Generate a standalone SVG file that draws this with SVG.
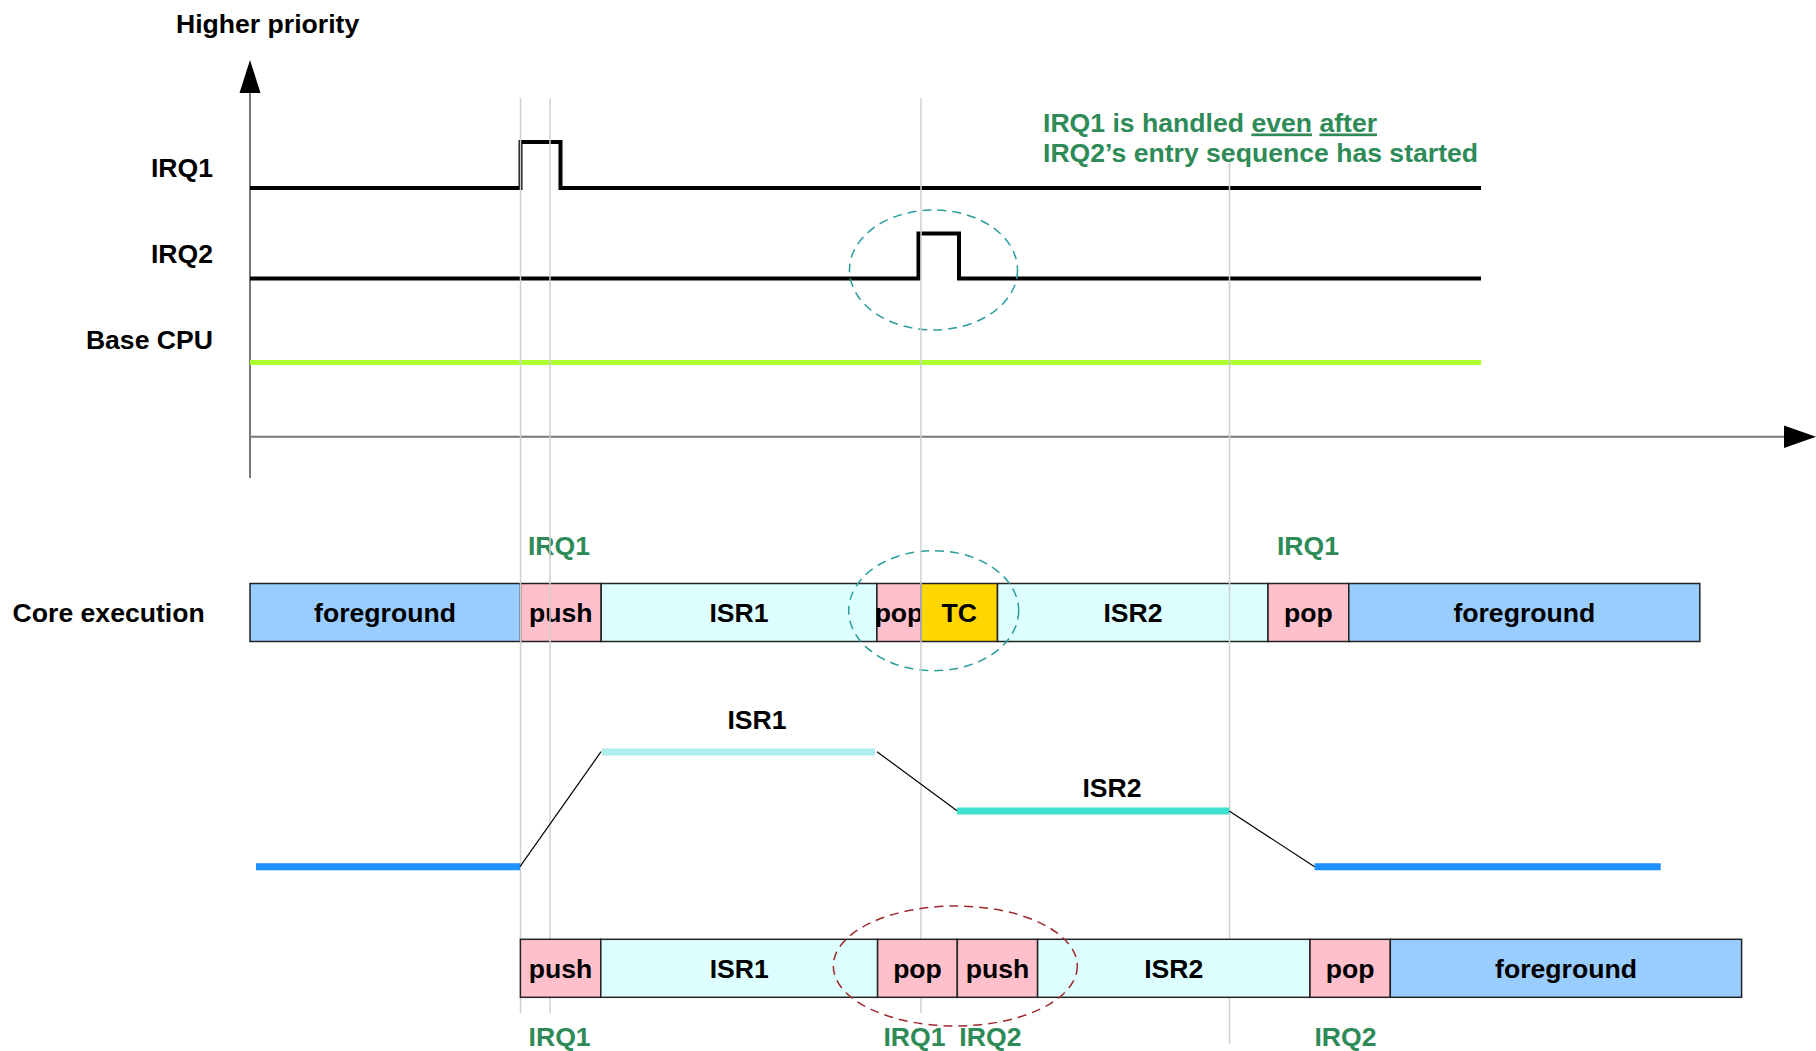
<svg xmlns="http://www.w3.org/2000/svg" width="1816" height="1051" viewBox="0 0 1816 1051">
<style>
text{font-family:"Liberation Sans",Arial,sans-serif;font-weight:bold;font-size:26.6px;fill:#000}
.lbl{text-anchor:end}
.c{text-anchor:middle}
.g{fill:#2E8B57}
.box{stroke:#222;stroke-width:1.5}
.fg{fill:#99CCFF}
.pp{fill:#FFC0CB}
.isr{fill:#DDFFFF}
.tc{fill:#FFD700}
.guide{stroke:#cfcfcf;stroke-width:1.5;fill:none}
.axis{stroke:#777;stroke-width:2;fill:none}
.sig{stroke:#000;stroke-width:4;fill:none}
.slope{stroke:#000;stroke-width:1.2;fill:none}
</style>
<g id="axes">
<line class="axis" x1="250" y1="90" x2="250" y2="478"/>
<polygon points="250,60 239.5,93 260.5,93" fill="#000"/>
<line class="axis" x1="250" y1="436.7" x2="1788" y2="436.7"/>
<polygon points="1816,436.7 1784,425.5 1784,448" fill="#000"/>
<text x="176" y="32.5">Higher priority</text>
</g>
<g id="signals">
<text class="lbl" x="213" y="177">IRQ1</text>
<text class="lbl" x="213" y="263">IRQ2</text>
<text class="lbl" x="213" y="349">Base CPU</text>
<path id="irq1-signal" class="sig" d="M250 188 H520.5 V142 H560.5 V188 H1481"/>
<path id="irq2-signal" class="sig" d="M250 278.5 H918.5 V233.5 H959 V278.5 H1481"/>
<line id="base-cpu" x1="250" y1="362.5" x2="1481" y2="362.5" stroke="#ADFF2F" stroke-width="5"/>
<ellipse cx="933.5" cy="270" rx="84" ry="60" fill="none" stroke="#2A9D9D" stroke-width="1.5" stroke-dasharray="9,6"/>
</g>
<g id="annotation">
<text class="g" x="1043" y="131.5">IRQ1 is handled <tspan text-decoration="underline">even</tspan> <tspan text-decoration="underline">after</tspan></text>
<text class="g" x="1043" y="161.5">IRQ2’s entry sequence has started</text>
</g>
<g id="core-row">
<text x="12.6" y="621.7">Core execution</text>
<g id="core-foreground1"><rect class="box fg" x="250" y="583.5" width="270.5" height="58"/><text class="c" x="385" y="621.7">foreground</text></g>
<g id="core-push"><rect class="box pp" x="520.5" y="583.5" width="80.7" height="58"/><text class="c" x="560.8" y="621.7">push</text></g>
<g id="core-isr1"><rect class="box isr" x="601.2" y="583.5" width="275.7" height="58"/><text class="c" x="739" y="621.7">ISR1</text></g>
<g id="core-pop1"><rect class="box pp" x="876.9" y="583.5" width="44.2" height="58"/><text class="c" x="899" y="621.7">pop</text></g>
<g id="core-tc"><rect class="box tc" x="921.1" y="583.5" width="76.4" height="58"/><text class="c" x="959.3" y="621.7">TC</text></g>
<g id="core-isr2"><rect class="box isr" x="997.5" y="583.5" width="270.5" height="58"/><text class="c" x="1133" y="621.7">ISR2</text></g>
<g id="core-pop2"><rect class="box pp" x="1268" y="583.5" width="80.8" height="58"/><text class="c" x="1308.4" y="621.7">pop</text></g>
<g id="core-foreground2"><rect class="box fg" x="1348.8" y="583.5" width="351" height="58"/><text class="c" x="1524.3" y="621.7">foreground</text></g>
<text class="g c" x="559" y="555">IRQ1</text>
<text class="g c" x="1308" y="555">IRQ1</text>
<ellipse cx="933.7" cy="610.7" rx="85" ry="60" fill="none" stroke="#2A9D9D" stroke-width="1.5" stroke-dasharray="9,6"/>
</g>
<g id="guides">
<line class="guide" x1="520.5" y1="98" x2="520.5" y2="1013"/>
<line class="guide" x1="550" y1="98" x2="550" y2="1013"/>
<line class="guide" x1="921" y1="98" x2="921" y2="1013"/>
<line class="guide" x1="1229.5" y1="162" x2="1229.5" y2="1044" stroke="#b5b5b5"/>
</g>
<g id="levels">
<line id="lvl-fg1" x1="256" y1="866.7" x2="520" y2="866.7" stroke="#1E90FF" stroke-width="7"/>
<line id="lvl-isr1" x1="601.8" y1="752" x2="875" y2="752" stroke="#AFEEEE" stroke-width="7"/>
<line id="lvl-isr2" x1="957" y1="811" x2="1229.2" y2="811" stroke="#40E0D0" stroke-width="7"/>
<line id="lvl-fg2" x1="1314.6" y1="866.7" x2="1660.7" y2="866.7" stroke="#1E90FF" stroke-width="7"/>
<text class="c" x="757" y="729">ISR1</text>
<text class="c" x="1112" y="796.7">ISR2</text>
</g>
<g id="connectors">
<line class="slope" x1="520" y1="866.7" x2="601" y2="751.7"/>
<line class="slope" x1="877" y1="751.7" x2="957" y2="810.7"/>
<line class="slope" x1="1229.2" y1="811" x2="1314.6" y2="866.7"/>
</g>
<g id="bottom-row">
<g id="b-push1"><rect class="box pp" x="520.4" y="939.3" width="80.4" height="58"/><text class="c" x="560.6" y="977.5">push</text></g>
<g id="b-isr1"><rect class="box isr" x="600.8" y="939.3" width="276.8" height="58"/><text class="c" x="739.2" y="977.5">ISR1</text></g>
<g id="b-pop1"><rect class="box pp" x="877.6" y="939.3" width="79.7" height="58"/><text class="c" x="917.5" y="977.5">pop</text></g>
<g id="b-push2"><rect class="box pp" x="957.3" y="939.3" width="80.3" height="58"/><text class="c" x="997.5" y="977.5">push</text></g>
<g id="b-isr2"><rect class="box isr" x="1037.6" y="939.3" width="272.4" height="58"/><text class="c" x="1173.8" y="977.5">ISR2</text></g>
<g id="b-pop2"><rect class="box pp" x="1310" y="939.3" width="80.3" height="58"/><text class="c" x="1350.2" y="977.5">pop</text></g>
<g id="b-foreground"><rect class="box fg" x="1390.3" y="939.3" width="351.3" height="58"/><text class="c" x="1566" y="977.5">foreground</text></g>
<ellipse cx="955.3" cy="966" rx="122" ry="60" fill="none" stroke="#A0282D" stroke-width="1.5" stroke-dasharray="9,6"/>
<text class="g c" x="559.6" y="1046">IRQ1</text>
<text class="g c" x="914.5" y="1046">IRQ1</text>
<text class="g c" x="990.4" y="1046">IRQ2</text>
<text class="g c" x="1345.5" y="1046">IRQ2</text>
</g>
</svg>
